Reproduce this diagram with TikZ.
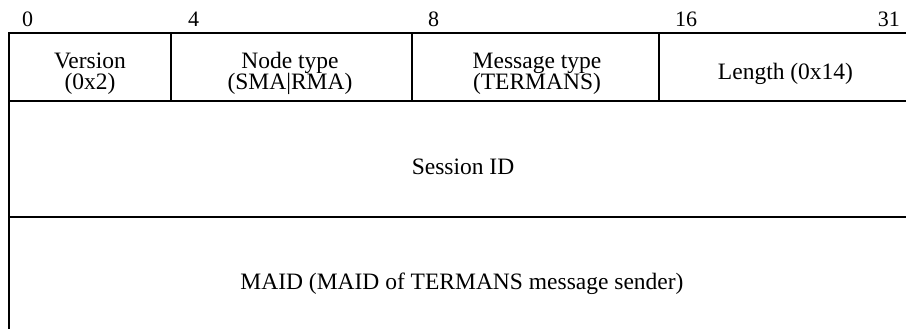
\documentclass[tikz,border=0pt]{standalone}
\usepackage{fontspec}
\setmainfont{Liberation Serif}
\begin{document}
\begin{tikzpicture}[x=1pt,y=-1pt,
  frame/.style={line width=2.6pt},
  bitlabel/.style={inner sep=0pt,anchor=base west,font=\fontsize{22}{22}\selectfont},
  celltext/.style={inner sep=0pt,anchor=base,font=\fontsize{23.5}{21}\selectfont}]
\useasboundingbox (0,0) rectangle (906,329);
% frame lines
\draw[frame] (9,329) -- (9,33) -- (906,33);
\draw[frame] (9,101) -- (906,101);
\draw[frame] (9,217) -- (906,217);
\draw[frame] (171,33) -- (171,101);
\draw[frame] (412,33) -- (412,101);
\draw[frame] (659,33) -- (659,101);
% bit labels
\node[bitlabel] (b0) at (22,27) {0};
\node[bitlabel] (b4) at (188,27) {4};
\node[bitlabel] (b8) at (428,27) {8};
\node[bitlabel] (b16) at (675,27) {16};
\node[bitlabel,anchor=base east] (b31) at (900,27) {31};
% header cells (two lines each)
\node[celltext] (ver1) at (90,69) {Version};
\node[celltext] (ver2) at (90,90) {(0x2)};
\node[celltext] (nt1) at (290,69) {Node type};
\node[celltext] (nt2) at (290,90) {(SMA|RMA)};
\node[celltext] (mt1) at (537,69) {Message type};
\node[celltext] (mt2) at (537,90) {(TERMANS)};
\node[celltext] (len) at (785.5,80) {Length (0x14)};
% wide rows
\node[celltext] (sid) at (463,175) {Session ID};
\node[celltext] (maid) at (462,289) {MAID (MAID of TERMANS message sender)};
\end{tikzpicture}
\end{document}
